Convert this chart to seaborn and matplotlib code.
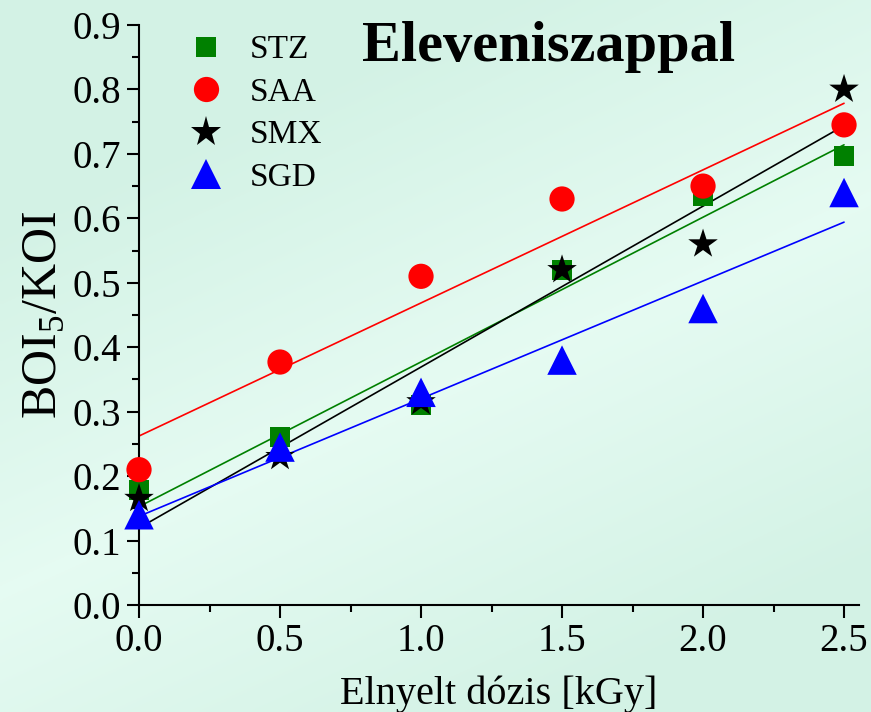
import numpy as np
import pandas as pd
import matplotlib
matplotlib.use("Agg")
import matplotlib.pyplot as plt
import seaborn as sns
from matplotlib.ticker import MultipleLocator, FormatStrFormatter

dose = [0.0, 0.5, 1.0, 1.5, 2.0, 2.5]
series_names = ["STZ", "SAA", "SMX", "SGD"]
stz = [0.178, 0.26, 0.31, 0.52, 0.635, 0.697]
saa = [0.21, 0.377, 0.51, 0.63, 0.65, 0.745]
smx = [0.165, 0.23, 0.315, 0.52, 0.56, 0.80]
sgd = [0.14, 0.245, 0.33, 0.38, 0.46, 0.64]

colors = {"STZ": "#008000", "SAA": "#ff0000", "SMX": "#000000", "SGD": "#0000ff"}
markers = {"STZ": "s", "SAA": "o", "SMX": "*", "SGD": "^"}
sizes = {"STZ": 210, "SAA": 330, "SMX": 500, "SGD": 450}

values = {"STZ": stz, "SAA": saa, "SMX": smx, "SGD": sgd}
df = pd.DataFrame({
    "dose": np.tile(dose, len(series_names)),
    "ratio": np.concatenate([values[n] for n in series_names]),
    "series": np.repeat(series_names, len(dose)),
})

sns.set_style("ticks")
plt.rcParams["font.family"] = ["Liberation Serif", "DejaVu Serif"]
plt.rcParams["mathtext.fontset"] = "custom"
plt.rcParams["mathtext.rm"] = "Liberation Serif"
for k in ["text.color", "axes.labelcolor", "xtick.color", "ytick.color", "axes.edgecolor"]:
    plt.rcParams[k] = "black"

fig = plt.figure(figsize=(8.71, 7.12), dpi=100)
# background gradient
bg = fig.add_axes([0, 0, 1, 1], zorder=-10)
yy, xx = np.mgrid[0:1:300j, 0:1:300j]
base = np.array([0.83, 0.95, 0.90])
light = np.array([0.90, 0.985, 0.95])
t = np.clip(1 - np.abs((yy * 0.9 + xx * 0.5) - 0.75) * 2.2, 0, 1)[..., None]
img = base * (1 - t) + light * t
bg.imshow(img, extent=[0, 1, 0, 1], aspect="auto", origin="upper")
bg.axis("off")

ax = fig.add_axes([0.1596, 0.1503, 0.8266, 0.8146])
ax.set_facecolor("none")

for n in series_names:
    sub = df[df["series"] == n]
    sns.regplot(data=sub, x="dose", y="ratio", ax=ax, scatter=False, ci=None,
                color=colors[n], line_kws={"lw": 1.2, "zorder": 2})

handles = []
for n in series_names:
    sub = df[df["series"] == n]
    sns.scatterplot(data=sub, x="dose", y="ratio", ax=ax, color=colors[n],
                    marker=markers[n], s=sizes[n], edgecolor="none",
                    linewidth=0, zorder=3, clip_on=False)
    handles.append(plt.Line2D([], [], ls="none", marker=markers[n], color=colors[n],
                              markersize=np.sqrt(sizes[n]), markeredgewidth=0))

ax.set_xlim(0, 2.553)
ax.set_ylim(0, 0.9)
ax.xaxis.set_major_locator(MultipleLocator(0.5))
ax.xaxis.set_minor_locator(MultipleLocator(0.25))
ax.yaxis.set_major_locator(MultipleLocator(0.1))
ax.yaxis.set_minor_locator(MultipleLocator(0.05))
ax.xaxis.set_major_formatter(FormatStrFormatter("%.1f"))
ax.yaxis.set_major_formatter(FormatStrFormatter("%.1f"))
ax.tick_params(which="major", direction="out", length=9, width=1.5, labelsize=28, pad=4)
ax.tick_params(which="minor", direction="out", length=5, width=1.5)
for s in ["top", "right"]:
    ax.spines[s].set_visible(False)
for s in ["left", "bottom"]:
    ax.spines[s].set_linewidth(1.5)

ax.set_xlabel("Elnyelt dózis [kGy]", fontsize=29, labelpad=11)
ax.set_ylabel(r"BOI$_5$/KOI", fontsize=36, labelpad=4)

ax.text(0.79, 0.866, "Eleveniszappal", fontsize=42, fontweight="bold",
        ha="left", va="center")

leg = ax.legend(handles, series_names, loc="upper left", bbox_to_anchor=(0.047, 1.006),
                frameon=False, fontsize=24, handletextpad=0.7, labelspacing=0.36,
                borderaxespad=0, handlelength=1.2)

fig.savefig("out.png", dpi=100)
